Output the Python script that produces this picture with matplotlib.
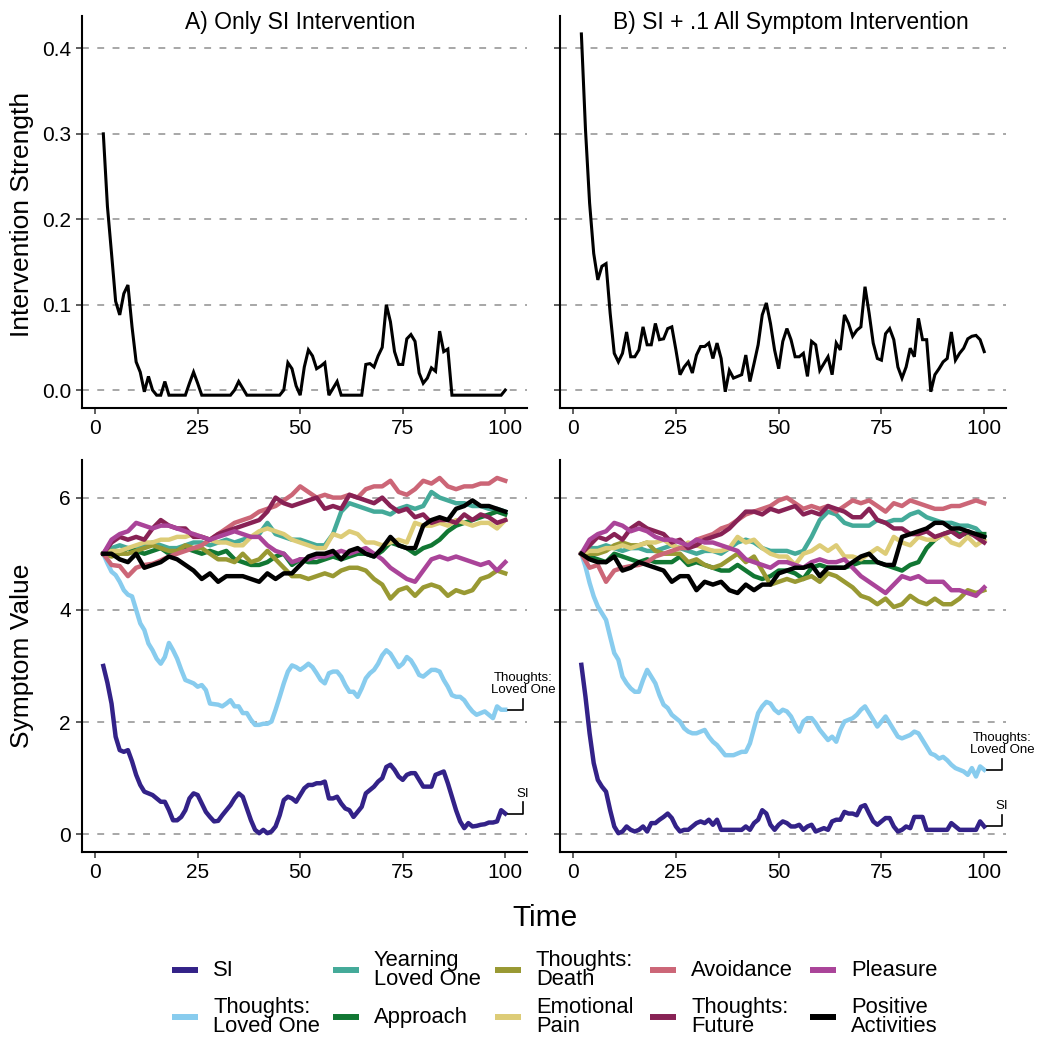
import matplotlib
matplotlib.use('Agg')
import matplotlib.pyplot as plt
from matplotlib.lines import Line2D

plt.rcParams['font.family'] = ['Liberation Sans', 'DejaVu Sans']

# time axes: intervention + SI/TLO read at every step, the crowded lines every 2nd step
time_full = list(range(2, 101))
time_half = list(range(2, 101, 2))

intervention_a = [
    0.3, 0.215, 0.16, 0.104, 0.088, 0.113, 0.123, 0.074, 0.033,
    0.021, -0.002, 0.016, 0.0, -0.006, -0.006, 0.01, -0.006, -0.006, -0.006,
    -0.006, -0.006, 0.008, 0.021, 0.008, -0.006, -0.006, -0.006, -0.006, -0.006,
    -0.006, -0.006, -0.006, 0.0, 0.01, 0.002, -0.006, -0.006, -0.006, -0.006,
    -0.006, -0.006, -0.006, -0.006, -0.006, 0.0, 0.032, 0.025, 0.005, -0.006,
    0.027, 0.047, 0.04, 0.025, 0.028, 0.032, -0.006, 0.002, 0.01, -0.006,
    -0.006, -0.006, -0.006, -0.006, -0.006, 0.03, 0.031, 0.027, 0.04, 0.05,
    0.1, 0.08, 0.045, 0.03, 0.03, 0.06, 0.065, 0.057, 0.02, 0.008,
    0.014, 0.026, 0.022, 0.069, 0.045, 0.048, -0.006, -0.006, -0.006, -0.006,
    -0.006, -0.006, -0.006, -0.006, -0.006, -0.006, -0.006, -0.006, -0.006, 0.0,
]
intervention_b = [
    0.417, 0.305, 0.219, 0.16, 0.129, 0.145, 0.148, 0.09, 0.043,
    0.033, 0.043, 0.068, 0.039, 0.039, 0.047, 0.074, 0.053, 0.053, 0.078,
    0.059, 0.06, 0.072, 0.074, 0.047, 0.018, 0.027, 0.033, 0.02, 0.041,
    0.051, 0.051, 0.055, 0.037, 0.055, 0.037, -0.002, 0.023, 0.014, 0.016,
    0.018, 0.041, 0.01, 0.031, 0.053, 0.088, 0.102, 0.078, 0.047, 0.025,
    0.057, 0.072, 0.059, 0.039, 0.039, 0.043, 0.016, 0.057, 0.053, 0.023,
    0.031, 0.039, 0.018, 0.055, 0.047, 0.088, 0.078, 0.063, 0.07, 0.074,
    0.121, 0.09, 0.055, 0.037, 0.035, 0.066, 0.072, 0.059, 0.027, 0.014,
    0.027, 0.049, 0.039, 0.084, 0.059, 0.059, -0.002, 0.018, 0.025, 0.033,
    0.037, 0.068, 0.035, 0.043, 0.049, 0.06, 0.063, 0.064, 0.059, 0.045,
]

# ---- panel A symptoms ----
si_a = [
    3.0, 2.7, 2.33, 1.74, 1.5, 1.47, 1.5, 1.3, 1.06,
    0.88, 0.76, 0.73, 0.7, 0.64, 0.58, 0.58, 0.43, 0.25, 0.25,
    0.31, 0.43, 0.64, 0.73, 0.7, 0.55, 0.4, 0.31, 0.23, 0.24,
    0.34, 0.43, 0.52, 0.64, 0.73, 0.67, 0.46, 0.25, 0.08, 0.02,
    0.08, 0.02, 0.05, 0.14, 0.34, 0.61, 0.67, 0.64, 0.58, 0.7,
    0.82, 0.88, 0.88, 0.91, 0.91, 0.94, 0.64, 0.64, 0.67, 0.55,
    0.46, 0.43, 0.31, 0.4, 0.49, 0.73, 0.79, 0.85, 0.94, 1.0,
    1.2, 1.24, 1.15, 1.03, 0.97, 1.06, 1.09, 1.09, 0.97, 0.85,
    0.85, 0.85, 1.06, 1.09, 1.12, 0.91, 0.67, 0.43, 0.23, 0.11,
    0.2, 0.14, 0.15, 0.17, 0.18, 0.21, 0.21, 0.23, 0.43, 0.37,
]
tlo_a = [
    5.0, 4.83, 4.68, 4.62, 4.5, 4.35, 4.27, 4.24, 4.0,
    3.76, 3.64, 3.4, 3.28, 3.13, 3.04, 3.16, 3.41, 3.28, 3.13,
    2.93, 2.75, 2.72, 2.69, 2.63, 2.66, 2.57, 2.33, 2.32, 2.31,
    2.28, 2.33, 2.39, 2.28, 2.28, 2.16, 2.16, 2.04, 1.95, 1.95,
    1.97, 1.97, 2.01, 2.22, 2.45, 2.69, 2.9, 3.01, 2.98, 2.93,
    2.98, 3.04, 2.98, 2.87, 2.75, 2.69, 2.87, 2.9, 2.9, 2.81,
    2.66, 2.54, 2.54, 2.45, 2.6, 2.78, 2.87, 2.93, 3.04, 3.19,
    3.28, 3.22, 3.1, 2.98, 3.04, 3.16, 3.1, 2.98, 2.84, 2.81,
    2.87, 2.93, 2.93, 2.9, 2.75, 2.63, 2.48, 2.45, 2.45, 2.39,
    2.28, 2.19, 2.13, 2.16, 2.19, 2.13, 2.07, 2.28, 2.22, 2.22,
]
ylo_a = [
    5.0, 5.1, 5.15, 5.1, 5.1, 5.15, 5.2, 5.15, 5.1, 5.1,
    5.15, 5.2, 5.2, 5.15, 5.2, 5.25, 5.2, 5.25, 5.3, 5.35,
    5.55, 5.35, 5.3, 5.25, 5.25, 5.2, 5.15, 5.15, 5.35, 5.75,
    5.9, 5.85, 5.8, 5.75, 5.75, 5.7, 5.8, 5.85, 5.8, 5.85,
    6.1, 6.0, 5.95, 5.9, 5.9, 5.85, 5.85, 5.8, 5.8, 5.75,
]
approach_a = [
    5.0, 5.05, 5.0, 5.1, 5.05, 5.0, 5.05, 5.1, 5.0, 5.05,
    5.1, 5.05, 5.0, 5.05, 5.0, 5.05, 4.9, 4.85, 4.8, 4.8,
    4.85, 4.95, 5.0, 4.8, 4.9, 4.85, 4.85, 4.9, 4.95, 4.9,
    4.95, 5.0, 5.0, 4.95, 5.05, 5.2, 5.15, 5.1, 5.0, 5.1,
    5.15, 5.25, 5.4, 5.5, 5.55, 5.6, 5.65, 5.7, 5.75, 5.7,
]
death_a = [
    5.0, 4.95, 5.0, 5.0, 5.05, 5.1, 5.15, 5.1, 5.05, 5.05,
    5.15, 5.1, 5.1, 5.0, 4.9, 4.9, 4.85, 5.0, 4.85, 4.9,
    5.05, 4.9, 4.75, 4.6, 4.6, 4.55, 4.6, 4.65, 4.6, 4.7,
    4.75, 4.75, 4.7, 4.55, 4.45, 4.2, 4.35, 4.4, 4.25, 4.4,
    4.45, 4.4, 4.25, 4.35, 4.3, 4.35, 4.55, 4.6, 4.7, 4.65,
]
pain_a = [
    5.0, 5.05, 5.05, 5.1, 5.15, 5.2, 5.2, 5.25, 5.25, 5.3,
    5.3, 5.35, 5.3, 5.25, 5.2, 5.2, 5.15, 5.15, 5.3, 5.4,
    5.45, 5.4, 5.35, 5.25, 5.2, 5.15, 5.1, 5.1, 5.35, 5.3,
    5.4, 5.35, 5.2, 5.2, 5.15, 5.2, 5.25, 5.2, 5.55, 5.5,
    5.5, 5.55, 5.5, 5.6, 5.55, 5.5, 5.55, 5.55, 5.45, 5.6,
]
avoid_a = [
    5.0, 4.8, 4.78, 4.6, 4.75, 4.8, 4.82, 4.88, 4.95, 5.0,
    5.05, 5.1, 5.15, 5.25, 5.35, 5.45, 5.55, 5.6, 5.65, 5.75,
    5.8, 5.85, 5.95, 6.05, 6.2, 6.1, 6.0, 6.05, 6.0, 6.0,
    6.05, 6.0, 6.15, 6.2, 6.2, 6.3, 6.1, 6.05, 6.15, 6.3,
    6.25, 6.35, 6.2, 6.15, 6.2, 6.2, 6.25, 6.25, 6.35, 6.3,
]
future_a = [
    5.0, 5.2, 5.3, 5.25, 5.3, 5.25, 5.45, 5.6, 5.5, 5.45,
    5.45, 5.3, 5.3, 5.25, 5.35, 5.4, 5.45, 5.5, 5.55, 5.6,
    5.75, 6.0, 5.9, 5.85, 5.9, 5.95, 6.0, 5.8, 5.85, 5.8,
    6.05, 6.0, 5.95, 5.9, 6.0, 5.85, 5.75, 5.8, 5.65, 5.7,
    5.55, 5.6, 5.6, 5.55, 5.7, 5.6, 5.7, 5.65, 5.55, 5.6,
]
pleasure_a = [
    5.0, 5.25, 5.35, 5.4, 5.55, 5.5, 5.45, 5.5, 5.5, 5.45,
    5.4, 5.35, 5.3, 5.25, 5.3, 5.35, 5.4, 5.35, 5.3, 5.3,
    5.15, 5.05, 5.0, 4.85, 4.9, 4.9, 4.95, 4.95, 5.0, 5.05,
    5.0, 5.05, 5.1, 5.0, 4.9, 4.75, 4.65, 4.55, 4.5, 4.7,
    4.9, 4.95, 4.9, 4.95, 4.9, 4.85, 4.8, 4.85, 4.7, 4.85,
]
positive_a = [
    5.0, 5.0, 4.9, 4.85, 5.0, 4.75, 4.8, 4.85, 4.95, 4.9,
    4.8, 4.7, 4.55, 4.65, 4.5, 4.6, 4.6, 4.6, 4.55, 4.5,
    4.65, 4.55, 4.65, 4.65, 4.8, 4.95, 5.0, 5.0, 5.05, 4.9,
    5.05, 5.1, 5.0, 4.95, 5.1, 5.3, 5.15, 5.1, 5.1, 5.5,
    5.6, 5.65, 5.6, 5.8, 5.85, 5.95, 5.85, 5.85, 5.8, 5.75,
]

# ---- panel B symptoms ----
si_b = [
    3.02, 2.45, 1.8, 1.27, 0.97, 0.85, 0.76, 0.43, 0.14,
    0.02, 0.05, 0.14, 0.08, 0.05, 0.08, 0.14, 0.05, 0.2, 0.2,
    0.26, 0.31, 0.37, 0.29, 0.14, 0.05, 0.08, 0.08, 0.14, 0.2,
    0.23, 0.2, 0.26, 0.17, 0.26, 0.08, 0.08, 0.08, 0.08, 0.08,
    0.08, 0.14, 0.08, 0.2, 0.26, 0.43, 0.37, 0.17, 0.08, 0.17,
    0.23, 0.2, 0.14, 0.14, 0.17, 0.08, 0.14, 0.17, 0.05, 0.08,
    0.11, 0.08, 0.23, 0.26, 0.26, 0.4, 0.37, 0.37, 0.34, 0.49,
    0.52, 0.37, 0.23, 0.17, 0.23, 0.29, 0.29, 0.14, 0.05, 0.08,
    0.14, 0.11, 0.31, 0.31, 0.31, 0.08, 0.08, 0.08, 0.08, 0.08,
    0.08, 0.2, 0.14, 0.08, 0.08, 0.08, 0.08, 0.08, 0.23, 0.14,
]
tlo_b = [
    5.0, 4.77, 4.48, 4.24, 4.06, 3.94, 3.82, 3.52, 3.23,
    3.11, 2.81, 2.69, 2.6, 2.54, 2.54, 2.75, 2.93, 2.81, 2.69,
    2.48, 2.31, 2.25, 2.13, 2.07, 2.01, 1.89, 1.83, 1.8, 1.8,
    1.83, 1.86, 1.74, 1.65, 1.59, 1.5, 1.41, 1.41, 1.41, 1.44,
    1.47, 1.47, 1.62, 1.89, 2.16, 2.28, 2.36, 2.33, 2.22, 2.16,
    2.22, 2.19, 2.1, 1.95, 1.83, 2.01, 2.07, 2.07, 1.98, 1.86,
    1.77, 1.68, 1.74, 1.65, 1.86, 2.01, 2.04, 2.07, 2.13, 2.22,
    2.28, 2.16, 2.04, 1.92, 2.01, 2.1, 1.98, 1.86, 1.74, 1.71,
    1.74, 1.77, 1.83, 1.8, 1.68, 1.56, 1.44, 1.41, 1.35, 1.38,
    1.32, 1.24, 1.18, 1.15, 1.12, 1.06, 1.18, 1.03, 1.21, 1.15,
]
ylo_b = [
    5.0, 5.1, 5.1, 5.15, 5.1, 5.05, 5.1, 5.1, 5.05, 5.05,
    5.1, 5.15, 5.1, 5.05, 5.0, 5.05, 5.05, 5.0, 5.1, 5.2,
    5.25, 5.2, 5.1, 5.05, 5.05, 5.05, 5.0, 5.05, 5.3, 5.6,
    5.75, 5.7, 5.55, 5.5, 5.5, 5.5, 5.6, 5.55, 5.6, 5.6,
    5.7, 5.75, 5.65, 5.6, 5.55, 5.55, 5.5, 5.5, 5.45, 5.3,
]
approach_b = [
    5.0, 4.95, 4.9, 4.85, 5.0, 4.95, 4.9, 4.85, 4.9, 4.85,
    4.85, 4.85, 4.95, 4.8, 4.85, 4.8, 4.75, 4.7, 4.7, 4.8,
    4.7, 4.6, 4.55, 4.6, 4.7, 4.7, 4.65, 4.55, 4.75, 4.8,
    4.75, 4.75, 4.75, 4.8, 4.85, 4.85, 4.85, 4.8, 4.75, 4.7,
    4.8, 4.85, 5.1, 5.25, 5.35, 5.4, 5.35, 5.35, 5.35, 5.35,
]
death_b = [
    5.0, 5.0, 5.0, 5.05, 5.15, 5.2, 5.15, 5.15, 5.2, 5.05,
    5.0, 5.0, 5.0, 4.85, 4.9, 4.8, 4.75, 4.8, 4.9, 5.0,
    4.85, 4.95, 4.7, 4.45, 4.5, 4.55, 4.5, 4.55, 4.6, 4.5,
    4.65, 4.6, 4.5, 4.4, 4.25, 4.2, 4.1, 4.2, 4.05, 4.1,
    4.25, 4.15, 4.1, 4.2, 4.1, 4.1, 4.2, 4.35, 4.3, 4.35,
]
pain_b = [
    5.0, 5.05, 5.05, 5.1, 5.1, 5.15, 5.1, 5.15, 5.2, 5.2,
    5.25, 5.15, 5.1, 5.2, 5.15, 5.1, 5.05, 5.05, 5.1, 5.3,
    5.2, 5.25, 5.1, 5.0, 4.95, 4.95, 4.8, 5.0, 5.05, 5.15,
    5.05, 5.15, 4.95, 4.95, 4.9, 5.0, 5.1, 5.0, 5.3, 5.2,
    5.15, 5.3, 5.25, 5.25, 5.35, 5.2, 5.15, 5.3, 5.15, 5.25,
]
avoid_b = [
    5.0, 4.75, 4.8, 4.5, 4.7, 4.75, 4.78, 4.8, 4.85, 4.95,
    5.0, 5.05, 5.1, 5.1, 5.25, 5.3, 5.35, 5.45, 5.5, 5.6,
    5.7, 5.75, 5.8, 5.85, 5.95, 6.0, 5.9, 5.8, 5.85, 5.8,
    5.85, 5.75, 5.85, 5.95, 5.9, 5.95, 5.85, 5.75, 5.9, 5.85,
    5.95, 5.9, 5.85, 5.8, 5.8, 5.85, 5.85, 5.9, 5.95, 5.9,
]
future_b = [
    5.0, 5.15, 5.3, 5.25, 5.35, 5.25, 5.45, 5.55, 5.45, 5.4,
    5.35, 5.2, 5.25, 5.1, 5.15, 5.25, 5.3, 5.35, 5.45, 5.6,
    5.75, 5.75, 5.7, 5.8, 5.75, 5.8, 5.85, 5.7, 5.75, 5.7,
    5.85, 5.8, 5.75, 5.65, 5.65, 5.8, 5.6, 5.55, 5.45, 5.45,
    5.35, 5.35, 5.4, 5.3, 5.35, 5.4, 5.3, 5.4, 5.3, 5.2,
]
pleasure_b = [
    5.0, 5.25, 5.35, 5.4, 5.55, 5.5, 5.4, 5.45, 5.4, 5.3,
    5.25, 5.25, 5.2, 5.15, 5.25, 5.2, 5.2, 5.15, 5.1, 5.05,
    4.9, 4.85, 4.8, 4.75, 4.85, 4.85, 4.8, 4.75, 4.85, 4.9,
    4.85, 4.85, 4.9, 4.75, 4.6, 4.5, 4.4, 4.3, 4.45, 4.6,
    4.55, 4.6, 4.5, 4.5, 4.5, 4.35, 4.35, 4.3, 4.25, 4.4,
]
positive_b = [
    5.0, 4.9, 4.85, 4.85, 4.95, 4.7, 4.75, 4.85, 4.8, 4.75,
    4.7, 4.5, 4.6, 4.6, 4.35, 4.5, 4.45, 4.5, 4.35, 4.3,
    4.45, 4.35, 4.45, 4.45, 4.65, 4.7, 4.75, 4.75, 4.8, 4.6,
    4.75, 4.75, 4.75, 4.85, 4.95, 5.0, 4.85, 4.8, 4.8, 5.3,
    5.35, 5.4, 5.45, 5.55, 5.55, 5.45, 5.45, 5.4, 5.35, 5.3,
]

labels = ['SI', 'Thoughts:\nLoved One', 'Yearning\nLoved One', 'Approach',
          'Thoughts:\nDeath', 'Emotional\nPain', 'Avoidance', 'Thoughts:\nFuture',
          'Pleasure', 'Positive\nActivities']
colors = ['#332288', '#88CCEE', '#44AA99', '#117733', '#999933',
          '#DDCC77', '#CC6677', '#882255', '#AA4499', '#000000']

series_a = [si_a, tlo_a, ylo_a, approach_a, death_a, pain_a, avoid_a, future_a, pleasure_a, positive_a]
series_b = [si_b, tlo_b, ylo_b, approach_b, death_b, pain_b, avoid_b, future_b, pleasure_b, positive_b]

W, H = 1044, 1050
fig = plt.figure(figsize=(W / 100, H / 100), dpi=100)


def px_axes(left, top, right, bottom):
    return fig.add_axes([left / W, 1 - bottom / H, (right - left) / W, (bottom - top) / H])


def style(ax, yticks, show_ylabels, fmt):
    for side in ('top', 'right'):
        ax.spines[side].set_visible(False)
    for side in ('left', 'bottom'):
        ax.spines[side].set_linewidth(1.5)
    ax.set_xlim(-3.2, 105.3)
    ax.set_xticks([0, 25, 50, 75, 100])
    ax.set_yticks(yticks)
    ax.set_yticklabels([fmt(v) for v in yticks] if show_ylabels else [])
    ax.tick_params(labelsize=15, length=4, width=1.1, color='#333333', pad=4)
    for y in yticks:
        ax.axhline(y, color='#8f8f8f', lw=1.1, ls=(0, (4.5, 5.5)), zorder=0)


def bracket(ax, y_end, text):
    ax.plot([100.7, 104.3, 104.3], [y_end, y_end, y_end + 0.2], color='black', lw=1.2, clip_on=False)
    ax.text(104.3, y_end + 0.25, text, ha='center', va='bottom', fontsize=9.5,
            linespacing=0.95)


top_a = px_axes(82, 16, 527, 408)
top_b = px_axes(560, 16, 1006, 408)
bot_a = px_axes(82, 460, 527, 852)
bot_b = px_axes(560, 460, 1006, 852)

for ax, vals, show in ((top_a, intervention_a, True), (top_b, intervention_b, False)):
    style(ax, [0, 0.1, 0.2, 0.3, 0.4], show, lambda v: f'{v:.1f}')
    ax.set_ylim(-0.021, 0.438)
    ax.plot(time_full, vals, color='black', lw=2.2, solid_joinstyle='miter')

for ax, series, show in ((bot_a, series_a, True), (bot_b, series_b, False)):
    style(ax, [0, 2, 4, 6], show, lambda v: f'{v:g}')
    ax.set_ylim(-0.315, 6.67)
    for vals, color in zip(series, colors):
        t = time_full if len(vals) == len(time_full) else time_half
        ax.plot(t, vals, color=color, lw=3.2)
    bracket(ax, series[1][-1], 'Thoughts:\nLoved One')
    bracket(ax, series[0][-1], 'SI')

fig.text(300 / W, 1 - 22 / H, 'A) Only SI Intervention', ha='center', va='center', fontsize=16.5)
fig.text(791 / W, 1 - 22 / H, 'B) SI + .1 All Symptom Intervention', ha='center', va='center', fontsize=16.5)
fig.text(22 / W, 1 - 214 / H, 'Intervention Strength', rotation=90, ha='center', va='center', fontsize=19)
fig.text(22 / W, 1 - 656 / H, 'Symptom Value', rotation=90, ha='center', va='center', fontsize=19)
fig.text(545 / W, 1 - 918 / H, 'Time', ha='center', va='center', fontsize=21.5)

# legend, 5 columns x 2 rows, filled column-wise like the original
col_x = [172, 333, 495, 650, 810]
row_y = [970, 1017]
for i, (label, color) in enumerate(zip(labels, colors)):
    x0 = col_x[i // 2]
    y0 = row_y[i % 2]
    fig.add_artist(Line2D([x0 / W, (x0 + 26) / W], [1 - y0 / H, 1 - y0 / H],
                          color=color, lw=4.3, solid_capstyle='butt'))
    fig.text((x0 + 41) / W, 1 - y0 / H, label, ha='left', va='center',
             fontsize=15.8, linespacing=0.9)

fig.savefig('out.png', dpi=100)
